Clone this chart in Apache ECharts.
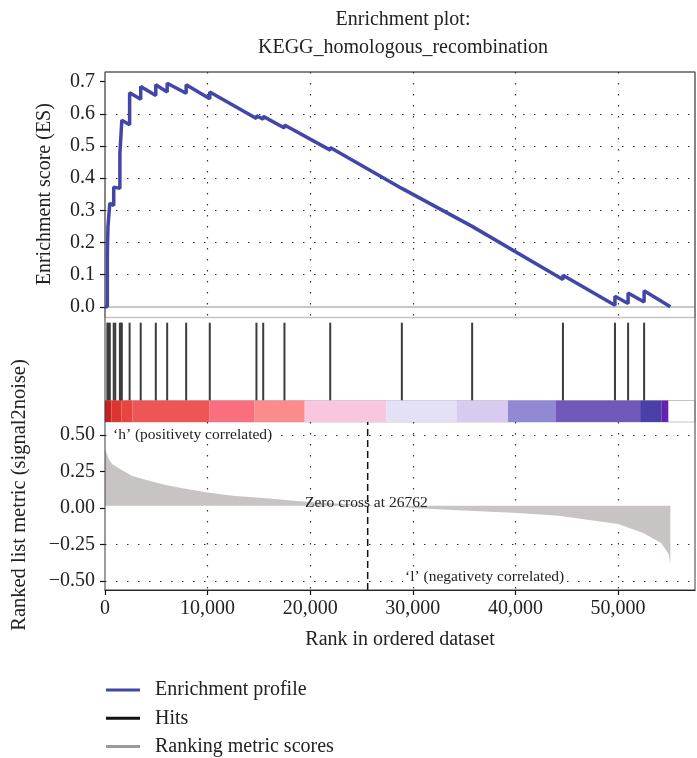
<!DOCTYPE html>
<html><head><meta charset="utf-8">
<script src="https://cdn.jsdelivr.net/npm/echarts@6/dist/echarts.min.js"></script>
<style>html,body{margin:0;padding:0;background:#fff}#c{width:697px;height:758px}</style>
</head><body><div id="c"></div>
<script>
// ---------- data ----------
const titleText = ['Enrichment plot:', 'KEGG_homologous_recombination'];
const xAxisName = 'Rank in ordered dataset';
const esAxisName = 'Enrichment score (ES)';
const metricAxisName = 'Ranked list metric (signal2noise)';
const legendNames = ['Enrichment profile', 'Hits', 'Ranking metric scores'];

// running enrichment score (rank, ES)
const esRank = [0, 230, 230, 290, 290, 470, 470, 850, 850, 1000, 1000, 1450, 1450, 1550, 1550, 1640, 1640,
  2400, 2400, 3480, 3480, 4950, 4950, 6060, 6060, 7910, 7910, 10210, 10210, 14760, 14760, 15420, 15420,
  17490, 17490, 21950, 21950, 28930, 28930, 35780, 35780, 44630, 44630, 49700, 49700, 50980, 50980,
  52540, 52540, 55100];
const esValue = [0, 0, 0.17, 0.169, 0.25, 0.247, 0.322, 0.315, 0.372, 0.37, 0.376, 0.368, 0.478, 0.476, 0.53,
  0.528, 0.58, 0.566, 0.665, 0.645, 0.685, 0.657, 0.69, 0.668, 0.695, 0.664, 0.69, 0.647, 0.668, 0.585, 0.594,
  0.583, 0.592, 0.556, 0.565, 0.487, 0.495, 0.368, 0.374, 0.25, 0.256, 0.085, 0.098, 0.005, 0.033, 0.01, 0.043,
  0.015, 0.05, 0.0];

// gene-set hit positions (rank)
const hitRanks = [230, 290, 470, 850, 1000, 1450, 1550, 1640, 2400, 3480, 4950, 6060, 7910, 10210, 14760,
  15420, 17490, 21950, 28930, 35780, 44630, 49700, 50980, 52540];

// ranked list metric (rank, signal2noise)
const metricRank = [0, 130, 390, 720, 1370, 2670, 4300, 5930, 7560, 10000, 12440, 15700, 18960, 22000, 25000,
  26762, 30000, 33300, 36500, 40260, 44200, 47200, 50000, 52400, 54200, 54900, 55100];
const metricValue = [0.40, 0.38, 0.33, 0.30, 0.27, 0.22, 0.187, 0.157, 0.135, 0.107, 0.084, 0.066, 0.046, 0.033,
  0.022, 0.015, 0.0, -0.012, -0.022, -0.035, -0.053, -0.083, -0.11, -0.17, -0.24, -0.31, -0.38];

// heat bar segments (rank from, rank to, colour)
const barFrom = [0, 630, 1600, 2680, 10200, 14590, 19460, 27430, 34260, 39270, 43950, 52150, 54260];
const barTo = [630, 1600, 2680, 10200, 14590, 19460, 27430, 34260, 39270, 43950, 52150, 54260, 54900];
const barColor = ['#c9221e', '#dc3530', '#e8453f', '#ee5656', '#f96f80', '#fb8c8b', '#f8c6df', '#e4e0f6',
  '#d7cbef', '#9189d4', '#7059b9', '#4b3fa8', '#6521b0'];

const zeroCrossRank = 25600;
const zeroCrossText = 'Zero cross at 26762';
const posText = '\u2018h\u2019 (positivety correlated)';
const negText = '\u2018l\u2019 (negativety correlated)';

const xMax = 57500;
const xStep = 10000;
const esMin = 0, esMax = 0.7, esStep = 0.1;
const mMin = -0.5, mMax = 0.5, mStep = 0.25;

// ---------- chart ----------
const FONT = "'Liberation Serif', 'Times New Roman', serif";
const TXT = '#222';
const dotted = {color: '#333', width: 1.2, type: [1.5, 9.5]};

function xAx(gi, extra) {
  return Object.assign({type: 'value', gridIndex: gi, min: 0, max: xMax, interval: xStep,
    axisLine: {show: false}, axisTick: {show: false}, axisLabel: {show: false}, splitLine: {show: false}}, extra || {});
}
function yHidden(gi) { return {type: 'value', gridIndex: gi, min: 0, max: 1, show: false}; }

const esData = esRank.map((r, i) => [r, esValue[i]]);
const metricData = metricRank.map((r, i) => [r, metricValue[i]]);
const hitData = hitRanks.map(r => [r, 1]);
const barData = barFrom.map((f, i) => [f, barTo[i], 1]);

const chart = echarts.init(document.getElementById('c'), null, {renderer: 'canvas'});
chart.setOption({
  animation: false,
  backgroundColor: '#fff',
  title: {
    text: titleText.join('\n'), left: 398, top: 1, textAlign: 'center',
    textStyle: {fontSize: 20, fontWeight: 'normal', fontFamily: FONT, color: TXT, lineHeight: 28}
  },
  grid: [
    {left: 105, top: 72, width: 590, height: 518, show: true, borderColor: '#3a3a3a', borderWidth: 1, z: 10},
    {left: 105, top: 72, width: 590, height: 245.5, show: true, borderColor: '#c4c4c4', borderWidth: 1.5},
    {left: 105, top: 81.6, width: 590, height: 225.2},
    {left: 105, top: 322.7, width: 590, height: 77.8},
    {left: 105, top: 400.5, width: 590, height: 21.5, show: true, borderColor: '#c4c4c4', borderWidth: 1},
    {left: 105, top: 422, width: 590, height: 168},
    {left: 105, top: 435, width: 590, height: 146}
  ],
  xAxis: [
    xAx(0),
    xAx(1, {splitLine: {show: true, showMinLine: false, showMaxLine: false, lineStyle: dotted}}),
    xAx(2),
    xAx(3),
    xAx(4),
    xAx(5, {
      axisLine: {show: true, lineStyle: {color: '#111', width: 1.2}},
      axisTick: {show: true, length: 5, lineStyle: {color: '#111', width: 1.2}},
      axisLabel: {show: true, showMaxLabel: false, margin: 9, fontSize: 20, fontFamily: FONT, color: TXT,
        formatter: v => v.toLocaleString('en-US')},
      splitLine: {show: true, showMinLine: false, showMaxLine: false, lineStyle: dotted},
      name: xAxisName, nameLocation: 'middle', nameGap: 40,
      nameTextStyle: {fontSize: 20, fontFamily: FONT, color: TXT}
    }),
    xAx(6)
  ],
  yAxis: [
    yHidden(0), yHidden(1),
    {type: 'value', gridIndex: 2, min: esMin, max: esMax, interval: esStep,
      axisLine: {show: false},
      axisTick: {show: true, length: 5, lineStyle: {color: '#111', width: 1.2}},
      axisLabel: {margin: 10, fontSize: 20, fontFamily: FONT, color: TXT, formatter: v => v.toFixed(1)},
      splitLine: {show: true, showMinLine: false, showMaxLine: false, lineStyle: dotted},
      name: esAxisName, nameLocation: 'middle', nameGap: 50,
      nameTextStyle: {fontSize: 20, fontFamily: FONT, color: TXT}},
    yHidden(3), yHidden(4), yHidden(5),
    {type: 'value', gridIndex: 6, min: mMin, max: mMax, interval: mStep,
      axisLine: {show: false},
      axisTick: {show: true, length: 5, lineStyle: {color: '#111', width: 1.2}},
      axisLabel: {margin: 10, fontSize: 20, fontFamily: FONT, color: TXT,
        formatter: v => v.toFixed(2).replace('-', '\u2212')},
      splitLine: {show: true, lineStyle: {width: 1.2, type: [1.5, 9.5],
        color: ['#333', '#333', 'rgba(0,0,0,0)', 'rgba(0,0,0,0)', '#333']}}}
  ],
  legend: {
    orient: 'vertical', left: 106, top: 680, height: 78, padding: 0,
    itemWidth: 34, itemHeight: 3, itemGap: 8.3, icon: 'rect',
    selectedMode: false,
    textStyle: {fontSize: 20, fontFamily: FONT, color: TXT, lineHeight: 20, padding: [0, 0, 0, 10]},
    data: [
      {name: legendNames[0], itemStyle: {color: '#4146a8'}},
      {name: legendNames[1], itemStyle: {color: '#111'}},
      {name: legendNames[2], itemStyle: {color: '#9a9a9a'}}
    ]
  },
  series: [
    {type: 'line', xAxisIndex: 2, yAxisIndex: 2, data: [], z: 1, silent: true,
      markLine: {silent: true, symbol: 'none', label: {show: false},
        lineStyle: {color: '#b5b5b5', width: 1.5, type: 'solid'}, data: [{yAxis: 0}]}},
    {type: 'line', name: legendNames[0], xAxisIndex: 2, yAxisIndex: 2, data: esData, symbol: 'none',
      showSymbol: false, clip: false, z: 10,
      lineStyle: {color: '#4146a8', width: 3.5}, itemStyle: {color: '#4146a8'}},
    {type: 'bar', name: legendNames[1], xAxisIndex: 3, yAxisIndex: 3, data: hitData, barWidth: 2,
      itemStyle: {color: '#3c3c3c'}},
    {type: 'custom', xAxisIndex: 4, yAxisIndex: 4, data: barData, encode: {x: [0, 1], y: 2}, z: 3,
      renderItem: (params, api) => {
        const a = api.coord([api.value(0), 1]);
        const b = api.coord([api.value(1), 0]);
        return {type: 'rect', shape: {x: a[0], y: a[1], width: b[0] - a[0], height: b[1] - a[1]},
          style: {fill: barColor[params.dataIndex]}};
      }},
    {type: 'line', name: legendNames[2], xAxisIndex: 6, yAxisIndex: 6, data: metricData, symbol: 'none',
      showSymbol: false, clip: false, z: 2,
      lineStyle: {width: 0, color: '#c8c4c4'}, itemStyle: {color: '#9a9a9a'},
      areaStyle: {color: '#c8c4c4', opacity: 1, origin: 0.015}},
    {type: 'custom', xAxisIndex: 5, yAxisIndex: 5, data: [[zeroCrossRank, 0]], encode: {x: 0, y: 1}, z: 6,
      renderItem: (params, api) => {
        const a = api.coord([api.value(0), 0]);
        const b = api.coord([api.value(0), 1]);
        return {type: 'line', shape: {x1: a[0], y1: a[1], x2: b[0], y2: b[1]},
          style: {stroke: '#111', lineWidth: 1.5, lineDash: [7, 4]}};
      }}
  ],
  graphic: [
    {type: 'text', x: 111, y: 435, z: 100,
      style: {text: posText, font: '15.5px ' + FONT, fill: TXT, textVerticalAlign: 'middle',
        backgroundColor: '#fff', padding: [1, 2]}},
    {type: 'text', x: 305, y: 503, z: 100,
      style: {text: zeroCrossText, font: '15.5px ' + FONT, fill: TXT, textVerticalAlign: 'middle'}},
    {type: 'text', x: 403, y: 577, z: 100,
      style: {text: negText, font: '15.5px ' + FONT, fill: TXT, textVerticalAlign: 'middle',
        backgroundColor: '#fff', padding: [1, 2]}},
    {type: 'text', x: 20, y: 495, rotation: Math.PI / 2, z: 100,
      style: {text: metricAxisName, font: '20.5px ' + FONT, fill: TXT, textAlign: 'center',
        textVerticalAlign: 'middle'}}
  ]
});
</script>
</body></html>
